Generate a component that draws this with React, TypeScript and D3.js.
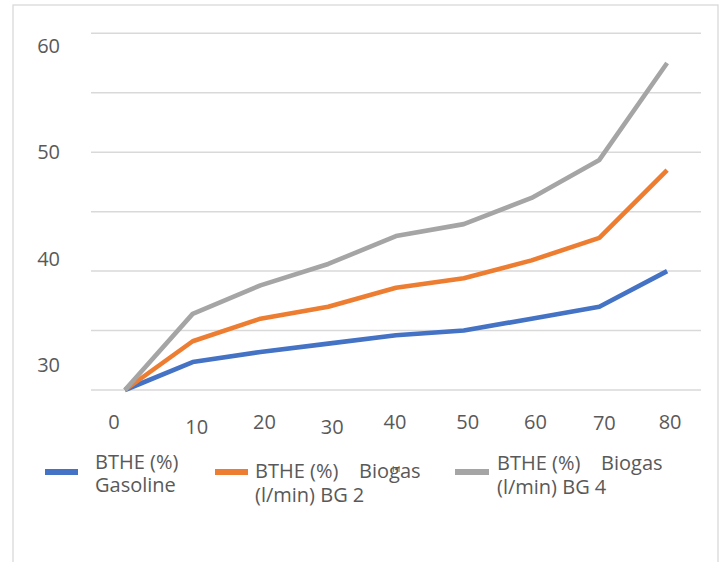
import React from "react";
import * as d3 from "d3";

const categories = ["0", "10", "20", "30", "40", "50", "60", "70", "80"];
const gasoline = [30, 32.35, 33.2, 33.9, 34.6, 35.0, 36.0, 37.0, 40.0];
const biogasBG2 = [30, 34.1, 36.0, 37.0, 38.6, 39.4, 40.9, 42.8, 48.5];
const biogasBG4 = [30, 36.4, 38.8, 40.6, 42.95, 43.95, 46.15, 49.35, 57.5];
const gridValues = [30, 35, 40, 45, 50, 55, 60];
const yTickLabels = [30, 40, 50, 60];
const seriesNames = [
  ["BTHE (%)", "Gasoline"],
  ["BTHE (%)    Biogas", "(l/min) BG 2"],
  ["BTHE (%)    Biogas", "(l/min) BG 4"],
];
const colors = ["#4472C4", "#ED7D31", "#A5A5A5"];

// layout nudges of the (misaligned) category labels, as in the reference
const xLabelDx = [-11, 4, 4, 4, -1, 4, 4, 5, 3];
const xLabelDy = [0, 5, 0, 5, 0, 0, 0, 1, 0];

const W = 723;
const H = 562;
const textColor = "#595959";
const font = "'Open Sans', 'Noto Sans', sans-serif";

export default function App() {
  const x = d3.scaleBand<string>().domain(categories).range([91, 701]).padding(0);
  const cx = (c: string) => (x(c) as number) + x.bandwidth() / 2;
  const y = d3.scaleLinear().domain([30, 60]).range([390, 33.3]);
  const yLab = d3.scaleLinear().domain([30, 60]).range([365, 46]);

  const series = [gasoline, biogasBG2, biogasBG4];
  const line = d3
    .line<number>()
    .x((_, i) => cx(categories[i]))
    .y((d) => y(d));

  const legend = [
    { sx: 45, sw: 33, tx: 95, y1: 462, y2: 485 },
    { sx: 215, sw: 33, tx: 255, y1: 471, y2: 495 },
    { sx: 455, sw: 34, tx: 497, y1: 463, y2: 487 },
  ];

  return (
    <svg
      width={W}
      height={H}
      style={{ position: "absolute", left: 0, top: 0, background: "#fff" }}
      fontFamily={font}
    >
      <rect x={13} y={5} width={705} height={600} fill="#fff" stroke="#d9d9d9" strokeWidth={1.3} />
      {gridValues.map((v) => (
        <line key={v} x1={91} x2={701} y1={y(v)} y2={y(v)} stroke="#d9d9d9" strokeWidth={1.5} />
      ))}
      {yTickLabels.map((v) => (
        <text key={v} x={60} y={yLab(v)} dy="0.35em" textAnchor="end" fontSize={20} fill={textColor}>
          {v}
        </text>
      ))}
      {categories.map((c, i) => (
        <text
          key={c}
          x={cx(c) + xLabelDx[i]}
          y={422 + xLabelDy[i]}
          dy="0.35em"
          textAnchor="middle"
          fontSize={20}
          fill={textColor}
        >
          {c}
        </text>
      ))}
      {series.map((s, i) => (
        <path
          key={i}
          d={line(s) as string}
          fill="none"
          stroke={colors[i]}
          strokeWidth={4.6}
          strokeLinejoin="round"
          strokeLinecap="butt"
        />
      ))}
      {legend.map((l, i) => (
        <g key={i}>
          <line x1={l.sx} x2={l.sx + l.sw} y1={472} y2={472} stroke={colors[i]} strokeWidth={6} />
          <text x={l.tx} y={l.y1} dy="0.35em" fontSize={20} fill={textColor} style={{ whiteSpace: "pre" }}>
            {seriesNames[i][0]}
          </text>
          <text x={l.tx} y={l.y2} dy="0.35em" fontSize={20} fill={textColor} style={{ whiteSpace: "pre" }}>
            {seriesNames[i][1]}
          </text>
        </g>
      ))}
      <text x={392} y={468} dy="0.35em" fontSize={10} fill={textColor}>
        ı-ı
      </text>
    </svg>
  );
}
